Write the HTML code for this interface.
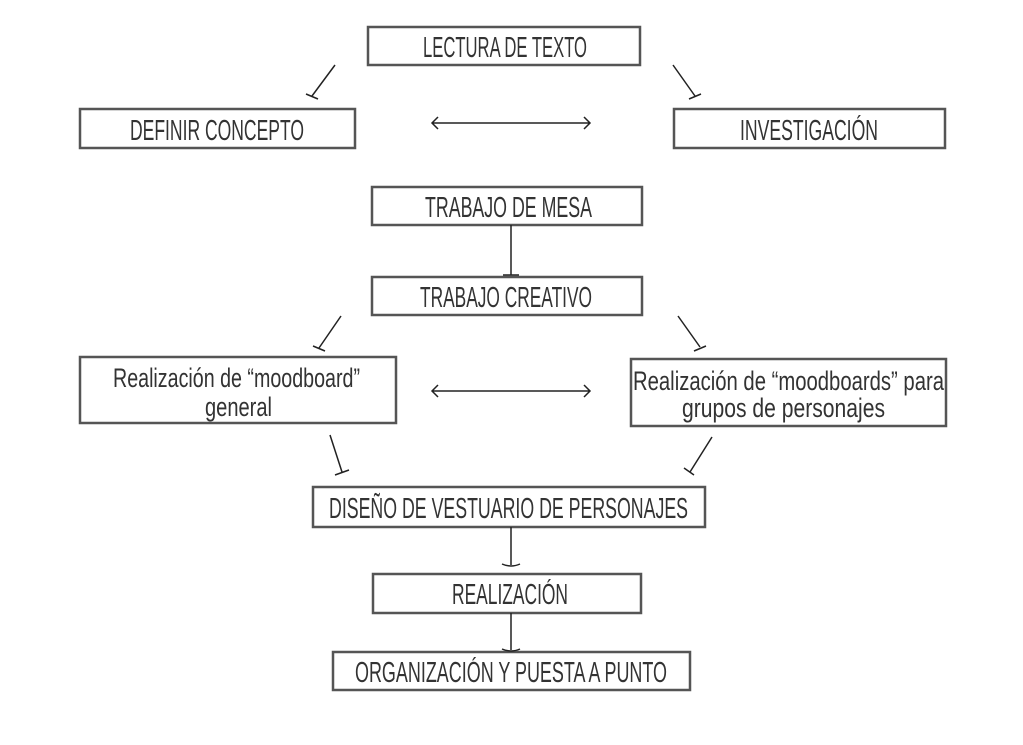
<!DOCTYPE html>
<html><head><meta charset="utf-8"><style>
html,body{margin:0;padding:0;background:#fff;width:1023px;height:745px;overflow:hidden}
text{font-family:"Liberation Sans Narrow","Liberation Sans",sans-serif;fill:#333}
</style></head><body>
<svg width="1023" height="745" viewBox="0 0 1023 745" xmlns="http://www.w3.org/2000/svg">
<g fill="none" stroke="#555" stroke-width="2.5">
<rect x="368" y="27" width="272" height="38"/>
<rect x="80" y="109" width="275" height="39"/>
<rect x="674" y="109" width="271" height="39"/>
<rect x="372" y="187" width="270" height="38"/>
<rect x="372" y="277" width="270" height="38"/>
<rect x="80" y="357" width="316" height="66"/>
<rect x="631" y="359" width="315" height="67"/>
<rect x="313" y="487" width="392" height="40"/>
<rect x="373" y="574" width="268" height="39"/>
<rect x="333" y="652" width="357" height="38"/>
</g>
<g fill="none" stroke="#222" stroke-width="1.5">
<path d="M335 65 L312 96 M306 94 L318 99"/>
<path d="M673 65 L695 96 M689 99 L701 94"/>
<path d="M341 316 L319 348 M313 346 L325 351"/>
<path d="M678 316 L700 347 M694 351 L706 346"/>
<path d="M330 435 L342 472 M335 475 L349 470"/>
<path d="M712 437 L690 472 M684 468 L694 475"/>
<path d="M511 225 L511 275 M503 275 L519 275"/>
<path d="M511 527 L511 565 M502 564 Q511 568 520 564"/>
<path d="M511 613 L511 650 M502 649 Q511 653 520 649"/>
<path d="M432 123 L590 123 M438 117 L432 123 L438 129 M584 117 L590 123 L584 129"/>
<path d="M432 391 L590 391 M438 385 L432 391 L438 397 M584 385 L590 391 L584 397"/>
</g>
<g font-size="29">
<text x="423" y="57" textLength="164" lengthAdjust="spacingAndGlyphs">LECTURA DE TEXTO</text>
<text x="130" y="140" textLength="174" lengthAdjust="spacingAndGlyphs">DEFINIR CONCEPTO</text>
<text x="740" y="140" textLength="138" lengthAdjust="spacingAndGlyphs">INVESTIGACIÓN</text>
<text x="425" y="217" textLength="167" lengthAdjust="spacingAndGlyphs">TRABAJO DE MESA</text>
<text x="420" y="307" textLength="172" lengthAdjust="spacingAndGlyphs">TRABAJO CREATIVO</text>
<text x="329" y="518" textLength="359" lengthAdjust="spacingAndGlyphs">DISEÑO DE VESTUARIO DE PERSONAJES</text>
<text x="452" y="604" textLength="116" lengthAdjust="spacingAndGlyphs">REALIZACIÓN</text>
<text x="355" y="682" textLength="312" lengthAdjust="spacingAndGlyphs">ORGANIZACIÓN Y PUESTA A PUNTO</text>
</g>
<g font-size="27">
<text x="113" y="387" textLength="247" lengthAdjust="spacingAndGlyphs">Realización de “moodboard”</text>
<text x="205" y="416" textLength="67" lengthAdjust="spacingAndGlyphs">general</text>
<text x="633" y="390" textLength="311" lengthAdjust="spacingAndGlyphs">Realización de “moodboards” para</text>
<text x="682" y="417" textLength="203" lengthAdjust="spacingAndGlyphs">grupos de personajes</text>
</g>
</svg>
</body></html>
